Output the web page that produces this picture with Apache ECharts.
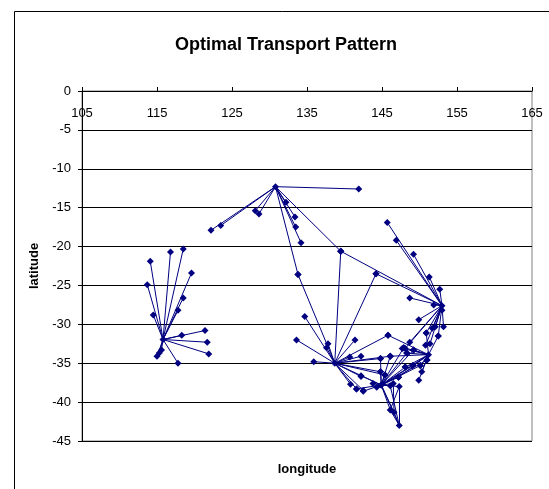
<!DOCTYPE html>
<html>
<head>
<meta charset="utf-8">
<script src="https://cdn.jsdelivr.net/npm/echarts@6/dist/echarts.min.js"></script>
<style>
html,body{margin:0;padding:0;background:#fff;}
#chart{width:549px;height:489px;}
</style>
</head>
<body>
<div id="chart"></div>
<script>
// ---- data (longitude, latitude) ----
const xTicks = [105, 115, 125, 135, 145, 155, 165];
const yTicks = [0, -5, -10, -15, -20, -25, -30, -35, -40, -45];

const perthHub = [115.8, -31.95];
const perthSpokes = [[114.1,-21.9],[116.8,-20.7],[118.5,-20.3],[119.6,-23.4],[113.7,-24.9],[118.5,-26.6],[117.8,-28.2],[114.5,-28.8],[121.4,-30.8],[118.3,-31.4],[121.7,-32.3],[121.9,-33.8],[117.8,-35.0],[115.6,-33.3],[115.3,-33.7],[115.0,-34.1]];

const darwinHub = [130.8, -12.3];
const darwinSpokes = [[141.9,-12.6],[132.2,-14.3],[128.1,-15.4],[128.6,-15.8],[123.5,-17.3],[122.2,-17.9],[133.4,-16.2],[133.5,-17.5],[134.2,-19.5],[133.8,-23.6],[139.5,-20.6]];

const adelaideHub = [138.7, -35.0];
const adelaideSpokes = [[133.8,-23.6],[139.5,-20.6],[144.2,-23.5],[134.7,-29.0],[137.8,-32.5],[137.6,-33.0],[135.9,-34.8],[133.6,-32.0],[141.4,-32.0],[140.7,-34.2],[142.2,-34.1],[145.8,-31.4],[144.8,-34.4],[142.2,-36.7],[140.8,-37.7],[141.6,-38.3],[142.5,-38.5],[144.9,-37.8],[144.8,-36.1],[145.4,-36.5],[146.1,-34.1]];

const brisbaneHub = [153.0, -27.6];
const brisbaneSpokes = [[145.7,-16.9],[146.9,-19.2],[149.2,-21.0],[151.3,-23.9],[152.7,-25.5],[148.7,-26.6],[151.9,-27.5],[139.5,-20.6],[144.2,-23.5],[149.9,-29.4],[153.0,-28.2],[153.2,-30.3],[152.1,-30.3],[151.7,-30.5],[150.9,-31.1],[152.5,-31.5],[148.7,-32.3],[151.4,-32.5],[148.1,-33.1],[150.8,-32.7]];

const sydneyHub = [151.2, -33.9];
const sydneySpokes = [[144.9,-37.8],[148.3,-33.7],[147.7,-33.1],[149.2,-33.3],[151.0,-34.6],[150.1,-35.3],[150.3,-36.1],[149.9,-37.2],[147.2,-36.8],[148.1,-35.5],[147.9,-33.0],[146.1,-34.1],[145.8,-31.4],[149.1,-35.3],[152.5,-31.5],[150.9,-31.1]];

const melbourneHub = [144.9, -37.8];
const melbourneSpokes = [[142.2,-36.6],[141.6,-38.3],[142.5,-38.6],[143.8,-37.6],[144.3,-38.1],[146.1,-37.9],[146.5,-37.6],[147.3,-38.0],[146.1,-41.0],[146.6,-41.3],[147.3,-43.0],[144.8,-36.1],[145.4,-36.5],[144.8,-34.4],[146.1,-34.1],[147.2,-36.8],[148.1,-35.5],[149.2,-33.3],[148.3,-33.7],[151.0,-34.6],[150.1,-35.3],[149.1,-35.3],[147.9,-33.0]];

const extraFrom = [[146.1,-37.9],[147.3,-38.0],[146.5,-37.6],[146.1,-41.0],[146.6,-41.3],[147.3,-38.0]];
const extraTo   = [[147.3,-43.0],[147.3,-43.0],[146.6,-41.3],[147.3,-43.0],[147.3,-43.0],[146.1,-41.0]];

// ---- build marks ----
const groups = [
  [perthHub, perthSpokes],
  [darwinHub, darwinSpokes],
  [adelaideHub, adelaideSpokes],
  [brisbaneHub, brisbaneSpokes],
  [sydneyHub, sydneySpokes],
  [melbourneHub, melbourneSpokes]
];
const edges = [];
const points = [];
groups.forEach(function (g) {
  points.push(g[0]);
  g[1].forEach(function (p) {
    edges.push({ coords: [g[0], p] });
    points.push(p);
  });
});
extraFrom.forEach(function (p, i) { edges.push({ coords: [p, extraTo[i]] }); });

const FONT = '"Liberation Sans", Arial, sans-serif';
const NAVY = '#000080';

const chart = echarts.init(document.getElementById('chart'), null, { renderer: 'canvas' });
chart.setOption({
  animation: false,
  backgroundColor: '#fff',
  title: {
    text: 'Optimal Transport Pattern',
    left: 170,
    top: 31,
    textStyle: { fontFamily: FONT, fontSize: 18, fontWeight: 'bold', color: '#000' }
  },
  grid: {
    left: 82, top: 91, width: 450, height: 350,
    show: true, borderColor: '#808080', borderWidth: 1, backgroundColor: 'transparent'
  },
  xAxis: {
    type: 'value',
    position: 'top',
    min: xTicks[0], max: xTicks[xTicks.length - 1], interval: 10,
    axisLine: { onZero: false, lineStyle: { color: '#000', width: 1 } },
    axisTick: { show: true, inside: false, length: 4, lineStyle: { color: '#000' } },
    axisLabel: { inside: true, margin: 16, fontFamily: FONT, fontSize: 13, color: '#000' },
    splitLine: { show: false }
  },
  yAxis: {
    type: 'value',
    min: yTicks[yTicks.length - 1], max: yTicks[0], interval: 5,
    name: 'latitude',
    nameLocation: 'middle',
    nameGap: 38,
    nameTextStyle: { fontFamily: FONT, fontSize: 13, fontWeight: 'bold', color: '#000' },
    axisLine: { show: true, onZero: false, lineStyle: { color: '#000', width: 1 } },
    axisTick: { show: true, inside: false, length: 4, lineStyle: { color: '#000' } },
    axisLabel: { margin: 11, fontFamily: FONT, fontSize: 13, color: '#000' },
    splitLine: { show: true, lineStyle: { color: '#000', width: 1 } }
  },
  graphic: [
    {
      type: 'rect', silent: true, z: -10,
      shape: { x: 14.5, y: 11.5, width: 700, height: 700 },
      style: { fill: null, stroke: '#000', lineWidth: 1 }
    },
    {
      type: 'text', silent: true,
      x: 307, y: 469,
      style: {
        text: 'longitude', font: 'bold 13px "Liberation Sans", Arial, sans-serif',
        fill: '#000', align: 'center', verticalAlign: 'middle',
        textAlign: 'center', textVerticalAlign: 'middle'
      }
    }
  ],
  series: [
    {
      type: 'lines',
      coordinateSystem: 'cartesian2d',
      polyline: false,
      silent: true,
      lineStyle: { color: NAVY, width: 1, opacity: 1, curveness: 0 },
      data: edges,
      z: 2
    },
    {
      type: 'scatter',
      symbol: 'diamond',
      symbolSize: 7,
      itemStyle: { color: NAVY, opacity: 1 },
      data: points,
      z: 3
    }
  ]
});
</script>
</body>
</html>
